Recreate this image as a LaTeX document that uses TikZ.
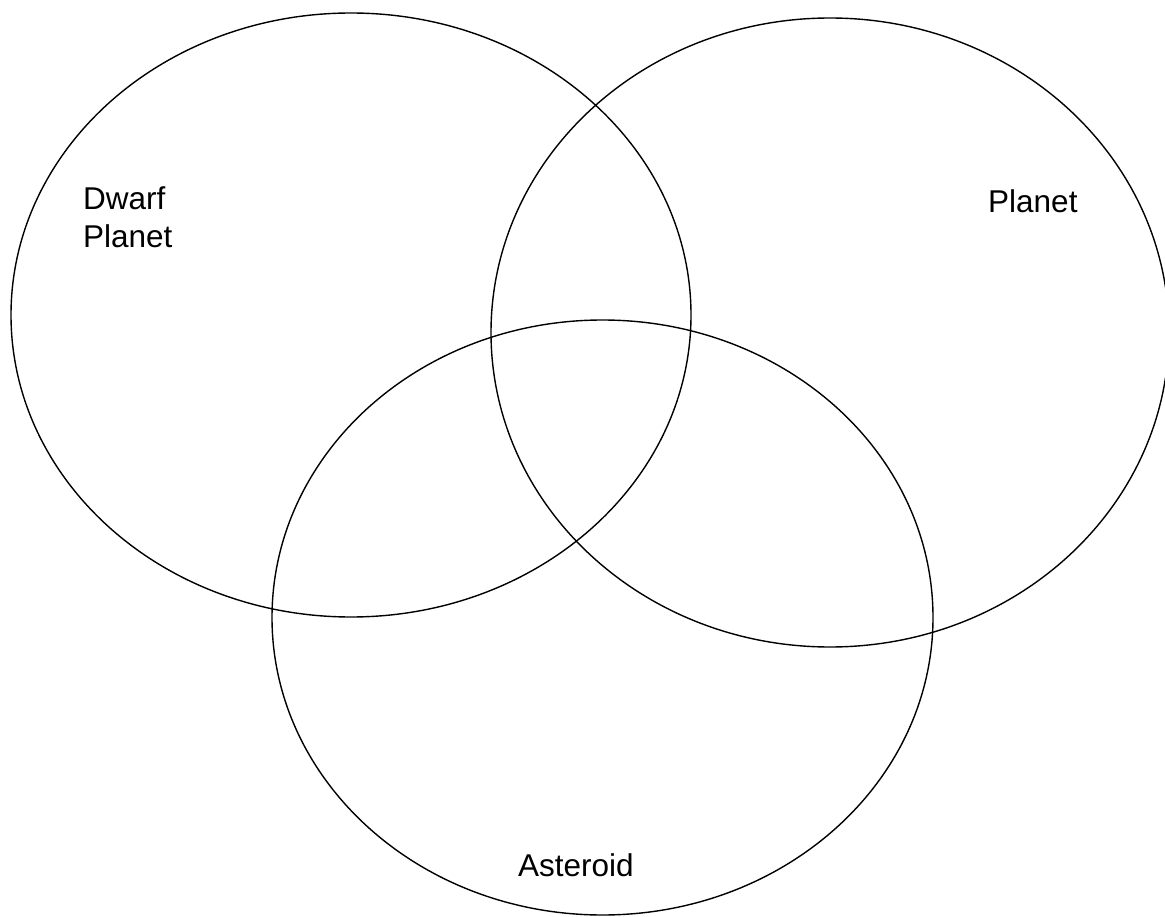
\documentclass[tikz,border=0pt]{standalone}
\usepackage{fontspec}
\setmainfont{Liberation Sans}
\begin{document}
\begin{tikzpicture}[x=1pt,y=-1pt,
  venn/.style={draw=black,line width=1.4pt},
  lbl/.style={font=\fontsize{31.5}{38}\selectfont,inner sep=0pt,align=left}]
\useasboundingbox (0,0) rectangle (1165,917);
\draw[venn] (351,315) ellipse [x radius=340, y radius=302];
\draw[venn] (830,332.5) ellipse [x radius=339, y radius=314.5];
\draw[venn] (602.5,617.5) ellipse [x radius=330.5, y radius=297.5];
\node[lbl,anchor=base west] (dwarf) at (83,248) {Dwarf\\Planet};
\node[lbl,anchor=base west] (planet) at (988,213) {Planet};
\node[lbl,anchor=base west] (asteroid) at (518,876) {Asteroid};
\end{tikzpicture}
\end{document}
